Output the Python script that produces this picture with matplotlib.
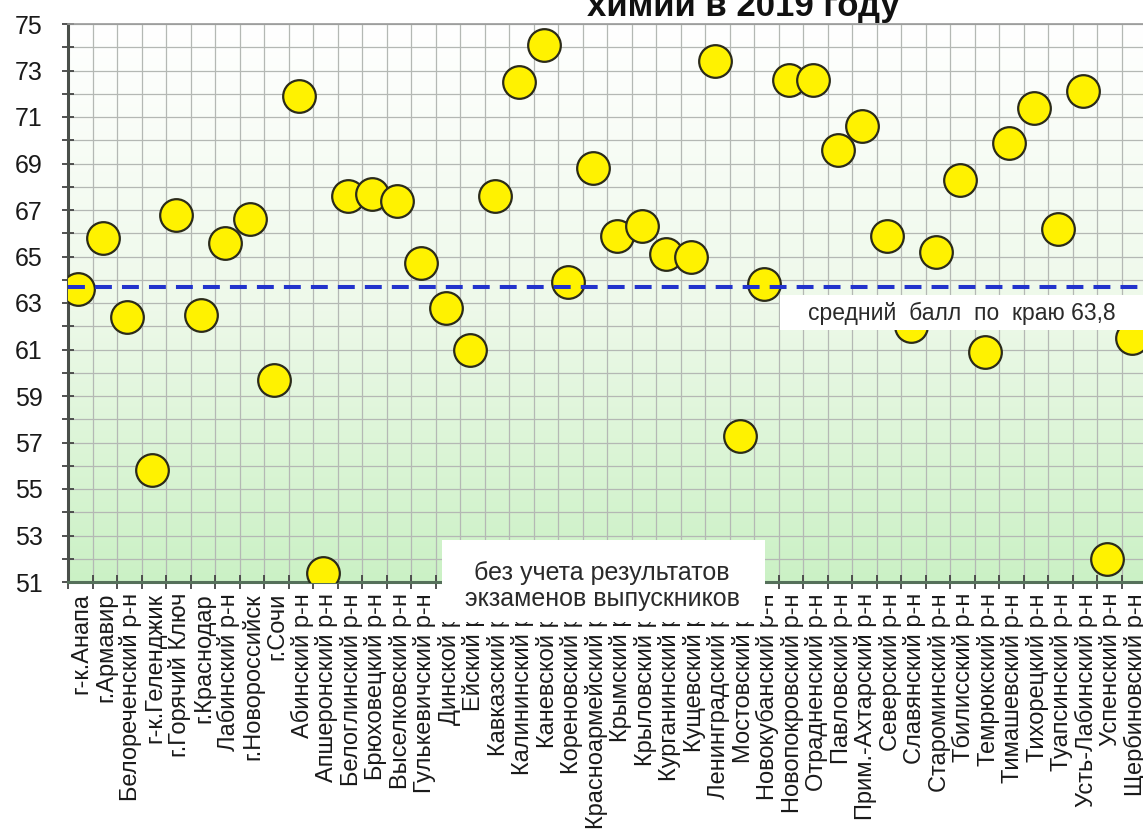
import numpy as np
import matplotlib
matplotlib.use('Agg')
import matplotlib.pyplot as plt
from matplotlib.patches import Rectangle
from matplotlib.colors import LinearSegmentedColormap

plt.rcParams['font.family'] = ['Liberation Sans', 'DejaVu Sans']

# Data
DISTRICTS = [
    'г-к.Анапа', 'г.Армавир', 'Белореченский р-н', 'г-к.Геленджик', 'г.Горячий Ключ',
    'г.Краснодар', 'Лабинский р-н', 'г.Новороссийск', 'г.Сочи', 'Абинский р-н',
    'Апшеронский р-н', 'Белоглинский р-н', 'Брюховецкий р-н', 'Выселковский р-н',
    'Гулькевичский р-н', 'Динской р-н', 'Ейский р-н', 'Кавказский р-н', 'Калининский р-н',
    'Каневской р-н', 'Кореновский р-н', 'Красноармейский р-н', 'Крымский р-н',
    'Крыловский р-н', 'Курганинский р-н', 'Кущевский р-н', 'Ленинградский р-н',
    'Мостовский р-н', 'Новокубанский р-н', 'Новопокровский р-н', 'Отрадненский р-н',
    'Павловский р-н', 'Прим.-Ахтарский р-н', 'Северский р-н', 'Славянский р-н',
    'Староминский р-н', 'Тбилисский р-н', 'Темрюкский р-н', 'Тимашевский р-н',
    'Тихорецкий р-н', 'Туапсинский р-н', 'Усть-Лабинский р-н', 'Успенский р-н',
    'Щербиновский р-н',
]
SCORES = [
    63.6, 65.8, 62.4, 55.8, 66.8, 62.5, 65.6, 66.6, 59.7, 71.9,
    51.4, 67.6, 67.7, 67.4, 64.7, 62.8, 61.0, 67.6, 72.5, 74.1,
    63.9, 68.8, 65.9, 66.3, 65.1, 65.0, 73.4, 57.3, 63.8, 72.6,
    72.6, 69.6, 70.6, 65.9, 62.0, 65.2, 68.3, 60.9, 69.9, 71.4,
    66.2, 72.1, 52.0, 61.5,
]
MEAN_LINE = 63.7
MEAN_LABEL = 'средний  балл  по  краю 63,8'
NOTE = 'без учета результатов\nэкзаменов выпускников'
TITLE_TAIL = 'химии в 2019 году'
Y_MIN, Y_MAX = 51, 75

W, H = 1143, 834
fig = plt.figure(figsize=(W / 100, H / 100), dpi=100)
ax = fig.add_axes([68 / W, 1 - 582 / H, (1146 - 68) / W, (582 - 24) / H])

x = np.arange(len(DISTRICTS))
x_lo, x_hi = -0.41, len(DISTRICTS) - 0.41

# background gradient, white at the top -> light green at the bottom
grad = LinearSegmentedColormap.from_list('bg', ['#ffffff', '#eef9ea', '#cbf1c5'])
ax.imshow(np.linspace(0, 1, 256).reshape(-1, 1), cmap=grad, aspect='auto',
          extent=(x_lo, x_hi, Y_MIN, Y_MAX), origin='upper', zorder=0,
          interpolation='bilinear')

ax.scatter(x, SCORES, s=23.5 ** 2, color='#fff200', edgecolors='#2b2b1a',
           linewidths=1.6, zorder=3)
ax.axhline(MEAN_LINE, color='#2233cc', lw=2.9, dashes=(4.2, 2.5), zorder=4)

ax.set_xlim(x_lo, x_hi)
ax.set_ylim(Y_MIN, Y_MAX)

# tick marks between categories, labels slightly right of the markers
ax.set_xticks(np.arange(len(DISTRICTS) + 1) - 0.41)
ax.set_xticklabels([])
ax.set_xticks(x + 0.15, minor=True)
ax.set_xticklabels(DISTRICTS, minor=True, rotation=90, fontsize=17, color='#1a1a1a')
ax.tick_params(axis='x', which='minor', length=0, pad=8)
ax.tick_params(axis='x', which='major', direction='inout', length=10, width=1.3, color='#444444')

ax.set_yticks(np.arange(Y_MIN, Y_MAX + 1, 2))
ax.set_yticks(np.arange(Y_MIN + 1, Y_MAX, 2), minor=True)
ax.tick_params(axis='y', which='both', direction='inout', length=8, width=1.3,
               color='#444444', labelsize=18, pad=14, labelcolor='#1a1a1a')

ax.grid(which='major', axis='x', color='#b4b8b4', lw=0.9)
ax.grid(which='both', axis='y', color='#b4b8b4', lw=0.9)

ax.spines['left'].set_color('#4a4f4a')
ax.spines['left'].set_linewidth(2.2)
ax.spines['bottom'].set_color('#55705a')
ax.spines['bottom'].set_linewidth(2.2)
ax.spines['top'].set_color('#999999')
ax.spines['top'].set_linewidth(1.2)
ax.spines['right'].set_visible(False)

# mean label box
fig.patches.append(Rectangle((780 / W, 1 - 330 / H), (W - 780) / W, 35 / H,
                             transform=fig.transFigure, facecolor='white',
                             edgecolor='none', zorder=5))
fig.text(962 / W, 1 - 313 / H, MEAN_LABEL, ha='center', va='center',
         fontsize=16.5, color='#2a2a2a', zorder=6)

# note box covering part of the axis
fig.patches.append(Rectangle((442 / W, 1 - 622 / H), (765 - 442) / W, (622 - 540) / H,
                             transform=fig.transFigure, facecolor='white',
                             edgecolor='none', zorder=5))
fig.text(602 / W, 1 - 586 / H, NOTE, ha='center', va='center', fontsize=18,
         color='#2a2a2a', linespacing=1.08, zorder=6)

fig.text(743 / W, 1 - 16 / H, TITLE_TAIL, ha='center', va='baseline',
         fontsize=25, fontweight='bold', color='#111111')

fig.savefig('out.png', dpi=100)
